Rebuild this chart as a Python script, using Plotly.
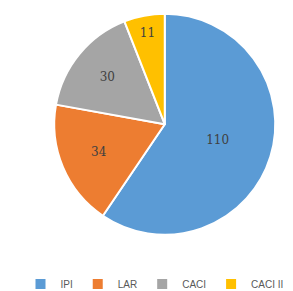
import plotly.graph_objects as go

categories = ["IPI", "LAR", "CACI", "CACI II"]
values = [110, 34, 30, 11]
colors = ["#5B9BD5", "#ED7D31", "#A5A5A5", "#FFC000"]

fig = go.Figure(go.Pie(
    labels=categories,
    values=values,
    sort=False,
    direction="clockwise",
    rotation=0,
    marker=dict(colors=colors, line=dict(color="white", width=2)),
    textinfo="value",
    textposition="inside",
    insidetextorientation="horizontal",
    textfont=dict(color="#404040", size=12, family="DejaVu Serif"),
    domain=dict(x=[0.07, 1.0], y=[0.21, 0.98]),
))

fig.update_layout(
    width=293, height=291,
    margin=dict(l=0, r=0, t=0, b=0),
    paper_bgcolor="white",
    plot_bgcolor="white",
    showlegend=True,
    legend=dict(
        orientation="h",
        x=0.5, y=0.038, xanchor="center", yanchor="middle",
        font=dict(size=10, color="#595959", family="Liberation Sans"),
        itemwidth=30,
        tracegroupgap=0,
    ),
)

fig.write_html("out.html")
